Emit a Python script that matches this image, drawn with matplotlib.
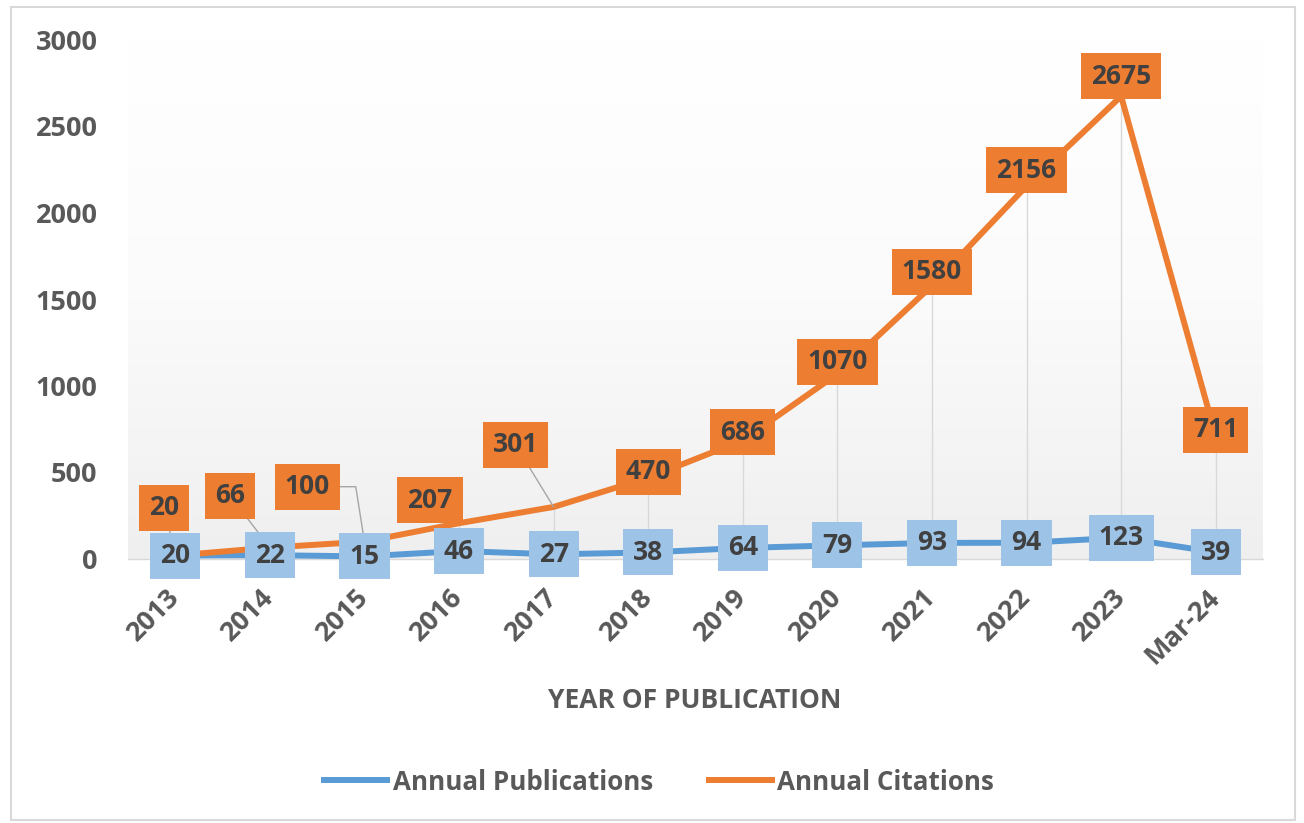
import numpy as np
import matplotlib
matplotlib.use("Agg")
import matplotlib.pyplot as plt
import matplotlib.transforms as mtransforms
from matplotlib.colors import LinearSegmentedColormap
from matplotlib.lines import Line2D
from matplotlib.patches import Rectangle
from matplotlib.path import Path

years = ["2013", "2014", "2015", "2016", "2017", "2018", "2019", "2020",
         "2021", "2022", "2023", "Mar-24"]
publications = [20, 22, 15, 46, 27, 38, 64, 79, 93, 94, 123, 39]
citations = [20, 66, 100, 207, 301, 470, 686, 1070, 1580, 2156, 2675, 711]

# label placement for the citation boxes (pixels from the point)
cit_offsets = [(-11, 48), (-40, 52), (-57, 55), (-29, 23), (-38, 62), (0, 6),
               (0, 8), (0, 12), (0, 14), (0, 16), (0, 20), (0, 6)]
leader = [True, True, True, False, True] + [False] * 7

BLUE = "#5B9BD5"
ORANGE = "#ED7D31"
TXT = "#595959"
LBL = "#404040"
plt.rcParams["font.family"] = ["Open Sans", "DejaVu Sans"]
plt.rcParams["font.weight"] = "bold"


def label_box(x0, y0, width, height, mutation_size):
    # Excel-like label box: fixed height, ~10px side padding
    cy = y0 + height / 2
    l, r = x0 - 10, x0 + width + 10
    b, t = cy - 23, cy + 23
    return Path([(l, b), (r, b), (r, t), (l, t), (l, b)], closed=True)


W, H = 1304, 823
fig = plt.figure(figsize=(W / 100, H / 100), dpi=100)
ax = fig.add_axes([128 / W, 1 - 559 / H, 1135 / W, 519 / H])
x = np.arange(len(years))

# plot area gradient: white at top, light grey at bottom
cmap = LinearSegmentedColormap.from_list("bg", ["#ffffff", "#fbfbfb", "#efefef"])
grad = np.linspace(0, 1, 256).reshape(-1, 1)
ax.imshow(grad, extent=[-0.5, 11.5, 0, 3000], origin="upper", aspect="auto",
          cmap=cmap, zorder=0)
ax.set_xlim(-0.5, 11.5)
ax.set_ylim(0, 3000)

# drop lines
ax.vlines(x, 0, np.maximum(publications, citations), color="#d9d9d9", lw=1, zorder=1)

ax.plot(x, publications, color=BLUE, lw=4.3, zorder=2, solid_capstyle="round")
ax.plot(x, citations, color=ORANGE, lw=4.3, zorder=2, solid_capstyle="round")

for i, v in enumerate(citations):
    dx, dy = cit_offsets[i]
    arrow = None
    if leader[i]:
        conn = "angle,angleA=0,angleB=99,rad=0" if i == 2 else "arc3"
        arrow = dict(arrowstyle="-", color="#a6a6a6", lw=1, shrinkA=0, shrinkB=0,
                     connectionstyle=conn)
    ax.annotate(str(v), (x[i], v), xytext=(dx, dy), textcoords="offset pixels",
                ha="center", va="center", fontsize=19, fontweight="bold", color=LBL,
                bbox=dict(boxstyle=label_box, fc=ORANGE, ec="none"),
                arrowprops=arrow, zorder=3)

for i, v in enumerate(publications):
    ax.annotate(str(v), (x[i], v), xytext=(0, 0), textcoords="offset pixels",
                ha="center", va="center", fontsize=19, fontweight="bold", color=LBL,
                bbox=dict(boxstyle=label_box, fc="#9DC3E6", ec="none"), zorder=5)

for s in ["top", "right", "left"]:
    ax.spines[s].set_visible(False)
ax.spines["bottom"].set_color("#d9d9d9")
ax.spines["bottom"].set_linewidth(1)
ax.spines["bottom"].set_zorder(1)

ax.set_yticks(range(0, 3001, 500))
ax.tick_params(axis="y", length=0, pad=22, labelsize=19.5, labelcolor=TXT)
ax.set_xticks(x)
ax.set_xticklabels(years, rotation=45, ha="right", va="top", rotation_mode="anchor")
ax.tick_params(axis="x", length=0, pad=18, labelsize=19.5, labelcolor=TXT)
shift = mtransforms.ScaledTranslation(-9 / 100, 0, fig.dpi_scale_trans)
for lab in ax.get_xticklabels():
    lab.set_transform(lab.get_transform() + shift)

fig.text(695 / W, 1 - 700 / H, "YEAR OF PUBLICATION", ha="center", va="center",
         fontsize=19, fontweight="bold", color=TXT)

handles = [Line2D([], [], color=BLUE, lw=4.3), Line2D([], [], color=ORANGE, lw=4.3)]
fig.legend(handles, ["Annual Publications", "Annual Citations"], loc="center",
           bbox_to_anchor=(659 / W, 1 - 782 / H), ncol=2, frameon=False,
           prop=dict(size=18.7, weight="bold"), labelcolor=TXT,
           handlelength=2.45, handletextpad=0.2, columnspacing=2.15)

fig.patches.append(Rectangle((11 / W, 1 - 820 / H), 1284 / W, 813 / H,
                             transform=fig.transFigure, fill=False,
                             ec="#d9d9d9", lw=1.5))

fig.savefig("out.png", dpi=100)
